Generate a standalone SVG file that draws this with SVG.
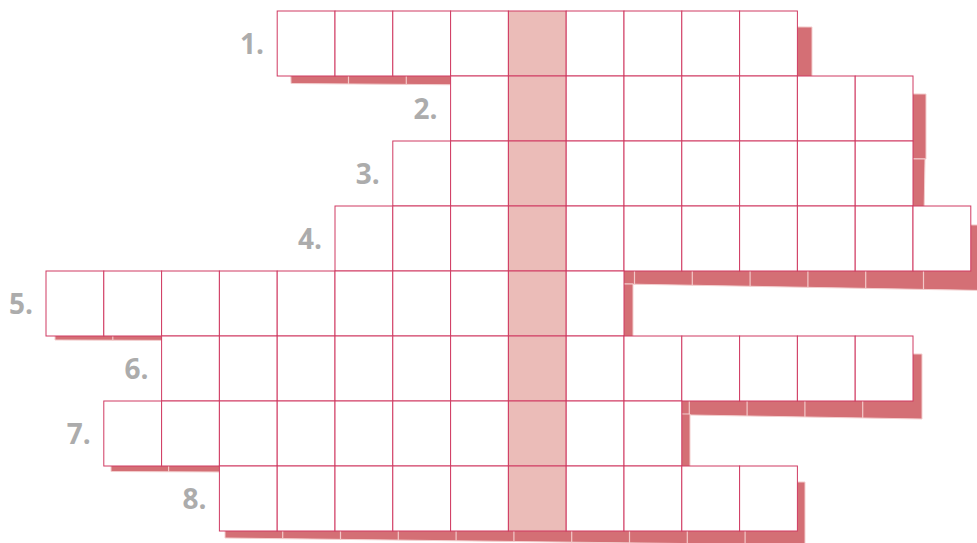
<svg xmlns="http://www.w3.org/2000/svg" xmlns:xlink="http://www.w3.org/1999/xlink" width="977" height="543" viewBox="0 0 977 543">
<style>
.c{fill:#fff;stroke:#d03a62;stroke-width:1}
.h{fill:#ebbcb8;stroke:#d03a62;stroke-width:1}
.sh{fill:#d46f75;stroke:#f3cfcf;stroke-width:1}
.sep{stroke:#f3c9c9;stroke-width:1.2}
.lb{font-family:"Open Sans","DejaVu Sans",sans-serif;font-weight:700;font-size:28px;fill:#acacac;text-anchor:end}
</style>
<defs>
<rect id="cell" width="57.8" height="65" class="c"/>
<rect id="hcell" width="57.8" height="65" class="h"/>
</defs>
<rect width="977" height="543" fill="#fff"/>

<g id="row1">
<polygon class="sh" points="290,25 812,27 812,87.5 291,83.5"/>
<line class="sep" x1="348.5" y1="76" x2="348.5" y2="84"/>
<line class="sep" x1="406.3" y1="76" x2="406.3" y2="84.5"/>
<use xlink:href="#cell" x="277.2" y="11"/><use xlink:href="#cell" x="335" y="11"/><use xlink:href="#cell" x="392.8" y="11"/><use xlink:href="#cell" x="450.6" y="11"/><use xlink:href="#hcell" x="508.4" y="11"/><use xlink:href="#cell" x="566.2" y="11"/><use xlink:href="#cell" x="624" y="11"/><use xlink:href="#cell" x="681.8" y="11"/><use xlink:href="#cell" x="739.6" y="11"/>
<text class="lb" x="264" y="54">1.</text>
</g>

<g id="row2">
<polygon class="sh" points="464,92 926,94 926,159 464,156"/>
<use xlink:href="#cell" x="450.6" y="76"/><use xlink:href="#hcell" x="508.4" y="76"/><use xlink:href="#cell" x="566.2" y="76"/><use xlink:href="#cell" x="624" y="76"/><use xlink:href="#cell" x="681.8" y="76"/><use xlink:href="#cell" x="739.6" y="76"/><use xlink:href="#cell" x="797.4" y="76"/><use xlink:href="#cell" x="855.2" y="76"/>
<text class="lb" x="437.6" y="119">2.</text>
</g>

<g id="row3">
<polygon class="sh" points="405,157 925,159 924,216 405,213"/>
<use xlink:href="#cell" x="392.8" y="141"/><use xlink:href="#cell" x="450.6" y="141"/><use xlink:href="#hcell" x="508.4" y="141"/><use xlink:href="#cell" x="566.2" y="141"/><use xlink:href="#cell" x="624" y="141"/><use xlink:href="#cell" x="681.8" y="141"/><use xlink:href="#cell" x="739.6" y="141"/><use xlink:href="#cell" x="797.4" y="141"/><use xlink:href="#cell" x="855.2" y="141"/>
<text class="lb" x="379.8" y="184">3.</text>
</g>

<g id="row4">
<polygon class="sh" points="345,221 984,225 984,290.5 345,279"/>
<line class="sep" x1="634.5" y1="271" x2="634.5" y2="284"/>
<line class="sep" x1="692.3" y1="271" x2="692.3" y2="285"/>
<line class="sep" x1="750.1" y1="271" x2="750.1" y2="286"/>
<line class="sep" x1="807.9" y1="271" x2="807.9" y2="287"/>
<line class="sep" x1="865.7" y1="271" x2="865.7" y2="288"/>
<line class="sep" x1="923.5" y1="271" x2="923.5" y2="289"/>
<use xlink:href="#cell" x="335" y="206"/><use xlink:href="#cell" x="392.8" y="206"/><use xlink:href="#cell" x="450.6" y="206"/><use xlink:href="#hcell" x="508.4" y="206"/><use xlink:href="#cell" x="566.2" y="206"/><use xlink:href="#cell" x="624" y="206"/><use xlink:href="#cell" x="681.8" y="206"/><use xlink:href="#cell" x="739.6" y="206"/><use xlink:href="#cell" x="797.4" y="206"/><use xlink:href="#cell" x="855.2" y="206"/><use xlink:href="#cell" x="913" y="206"/>
<text class="lb" x="322" y="249">4.</text>
</g>

<g id="row5">
<polygon class="sh" points="55,284 633,284 633,342 55,340"/>
<line class="sep" x1="112.8" y1="336" x2="112.8" y2="340.5"/>
<use xlink:href="#cell" x="46" y="271"/><use xlink:href="#cell" x="103.8" y="271"/><use xlink:href="#cell" x="161.6" y="271"/><use xlink:href="#cell" x="219.4" y="271"/><use xlink:href="#cell" x="277.2" y="271"/><use xlink:href="#cell" x="335" y="271"/><use xlink:href="#cell" x="392.8" y="271"/><use xlink:href="#cell" x="450.6" y="271"/><use xlink:href="#hcell" x="508.4" y="271"/><use xlink:href="#cell" x="566.2" y="271"/>
<text class="lb" x="33" y="314">5.</text>
</g>

<g id="row6">
<polygon class="sh" points="170,350 922,354 922,419 170,406"/>
<line class="sep" x1="689.3" y1="401" x2="689.3" y2="415"/>
<line class="sep" x1="747.1" y1="401" x2="747.1" y2="416"/>
<line class="sep" x1="804.9" y1="401" x2="804.9" y2="417"/>
<line class="sep" x1="862.7" y1="401" x2="862.7" y2="418"/>
<use xlink:href="#cell" x="161.6" y="336"/><use xlink:href="#cell" x="219.4" y="336"/><use xlink:href="#cell" x="277.2" y="336"/><use xlink:href="#cell" x="335" y="336"/><use xlink:href="#cell" x="392.8" y="336"/><use xlink:href="#cell" x="450.6" y="336"/><use xlink:href="#hcell" x="508.4" y="336"/><use xlink:href="#cell" x="566.2" y="336"/><use xlink:href="#cell" x="624" y="336"/><use xlink:href="#cell" x="681.8" y="336"/><use xlink:href="#cell" x="739.6" y="336"/><use xlink:href="#cell" x="797.4" y="336"/><use xlink:href="#cell" x="855.2" y="336"/>
<text class="lb" x="148.6" y="379">6.</text>
</g>

<g id="row7">
<polygon class="sh" points="111,410 690,414 690,474 111,471.5"/>
<line class="sep" x1="168.6" y1="466" x2="168.6" y2="472"/>
<use xlink:href="#cell" x="103.8" y="401"/><use xlink:href="#cell" x="161.6" y="401"/><use xlink:href="#cell" x="219.4" y="401"/><use xlink:href="#cell" x="277.2" y="401"/><use xlink:href="#cell" x="335" y="401"/><use xlink:href="#cell" x="392.8" y="401"/><use xlink:href="#cell" x="450.6" y="401"/><use xlink:href="#hcell" x="508.4" y="401"/><use xlink:href="#cell" x="566.2" y="401"/><use xlink:href="#cell" x="624" y="401"/>
<text class="lb" x="90.8" y="444">7.</text>
</g>

<g id="row8">
<polygon class="sh" points="225,480 805,482 805,545 225,538"/>
<line class="sep" x1="282.7" y1="531" x2="282.7" y2="539"/>
<line class="sep" x1="340.5" y1="531" x2="340.5" y2="540"/>
<line class="sep" x1="398.3" y1="531" x2="398.3" y2="540"/>
<line class="sep" x1="456.1" y1="531" x2="456.1" y2="541"/>
<line class="sep" x1="513.9" y1="531" x2="513.9" y2="542"/>
<line class="sep" x1="571.7" y1="531" x2="571.7" y2="543"/>
<line class="sep" x1="629.5" y1="531" x2="629.5" y2="543"/>
<line class="sep" x1="687.3" y1="531" x2="687.3" y2="543"/>
<line class="sep" x1="745.1" y1="531" x2="745.1" y2="543"/>
<use xlink:href="#cell" x="219.4" y="466"/><use xlink:href="#cell" x="277.2" y="466"/><use xlink:href="#cell" x="335" y="466"/><use xlink:href="#cell" x="392.8" y="466"/><use xlink:href="#cell" x="450.6" y="466"/><use xlink:href="#hcell" x="508.4" y="466"/><use xlink:href="#cell" x="566.2" y="466"/><use xlink:href="#cell" x="624" y="466"/><use xlink:href="#cell" x="681.8" y="466"/><use xlink:href="#cell" x="739.6" y="466"/>
<text class="lb" x="206.4" y="509">8.</text>
</g>
</svg>
